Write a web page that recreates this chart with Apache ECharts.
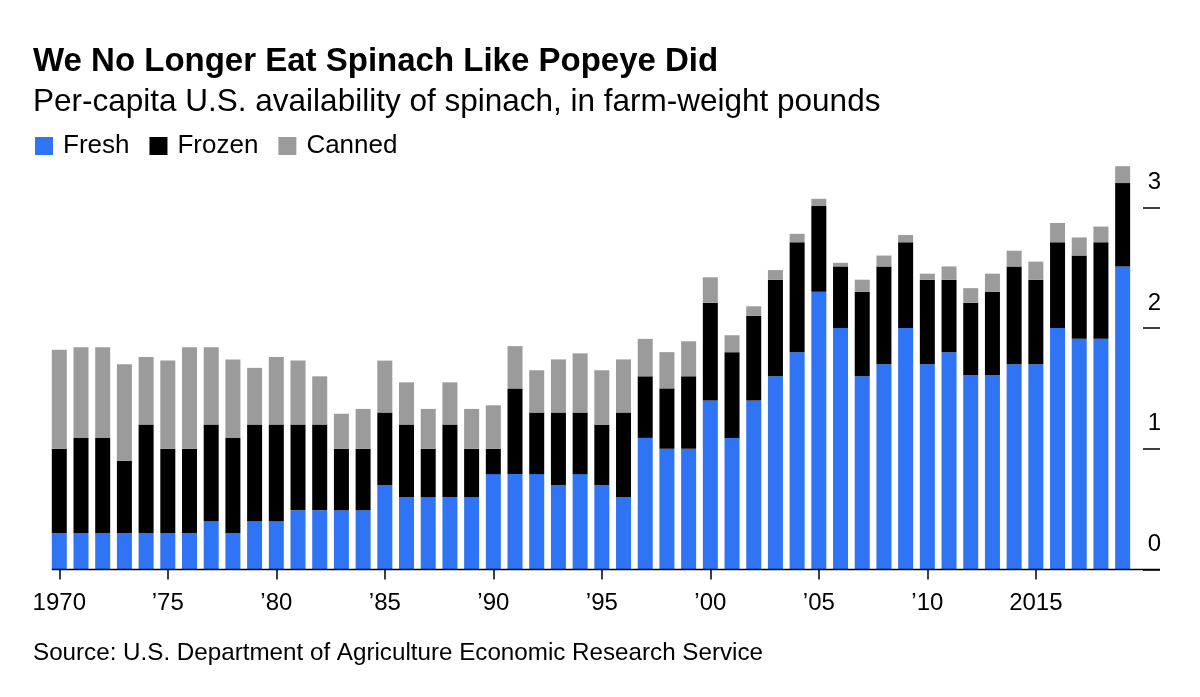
<!DOCTYPE html>
<html>
<head>
<meta charset="utf-8">
<script src="https://cdn.jsdelivr.net/npm/echarts@6/dist/echarts.min.js"></script>
<style>
html,body{margin:0;padding:0;background:#fff;}
#c{width:1200px;height:697px;}
</style>
</head>
<body>
<div id="c"></div>
<script>
const years = [];
for (let y = 1970; y <= 2019; y++) years.push(String(y));

const fresh = [0.30,0.30,0.30,0.30,0.30,0.30,0.30,0.40,0.30,0.40,
               0.40,0.49,0.49,0.49,0.49,0.70,0.60,0.60,0.60,0.60,
               0.79,0.79,0.79,0.70,0.79,0.70,0.60,1.09,1.00,1.00,
               1.40,1.09,1.40,1.60,1.80,2.30,2.00,1.60,1.70,2.00,
               1.70,1.80,1.61,1.61,1.70,1.70,2.00,1.91,1.91,2.51];
const frozen = [0.70,0.79,0.79,0.60,0.90,0.70,0.70,0.80,0.79,0.80,
                0.80,0.71,0.71,0.51,0.51,0.60,0.60,0.40,0.60,0.40,
                0.21,0.71,0.51,0.60,0.51,0.50,0.70,0.51,0.50,0.60,
                0.81,0.71,0.70,0.80,0.91,0.71,0.51,0.70,0.81,0.71,
                0.70,0.60,0.60,0.69,0.81,0.70,0.71,0.69,0.80,0.69];
const canned = [0.82,0.75,0.75,0.80,0.56,0.73,0.84,0.64,0.65,0.47,
                0.56,0.53,0.40,0.29,0.33,0.43,0.35,0.33,0.35,0.33,
                0.36,0.35,0.35,0.44,0.49,0.45,0.44,0.31,0.30,0.29,
                0.21,0.14,0.08,0.08,0.07,0.06,0.03,0.10,0.09,0.06,
                0.05,0.11,0.12,0.15,0.13,0.15,0.16,0.15,0.13,0.14];

const yTicks = [0, 1, 2, 3];
const titleText = 'We No Longer Eat Spinach Like Popeye Did';
const subtitleText = 'Per-capita U.S. availability of spinach, in farm-weight pounds';
const sourceText = 'Source: U.S. Department of Agriculture Economic Research Service';

const FONT = '"Liberation Sans", Arial, Helvetica, sans-serif';
const BLUE = '#2f74f5', BLACK = '#000000', GRAY = '#9b9b9b';

function isLabeled(i) {
  const y = +years[i];
  return y % 5 === 0 && y <= 2015;
}

const chart = echarts.init(document.getElementById('c'), null, {renderer: 'canvas'});
const option = {
  animation: false,
  backgroundColor: '#ffffff',
  textStyle: {fontFamily: FONT},
  title: [
    {text: titleText, left: 33, top: 45, padding: 0,
     textStyle: {fontFamily: FONT, fontSize: 33, fontWeight: 'bold', color: '#000'}},
    {text: subtitleText, left: 33, top: 86, padding: 0,
     textStyle: {fontFamily: FONT, fontSize: 31.5, fontWeight: 'normal', color: '#000'}},
    {text: sourceText, left: 33, top: 641, padding: 0,
     textStyle: {fontFamily: FONT, fontSize: 24.2, fontWeight: 'normal', color: '#000'}}
  ],
  legend: {
    left: 35, top: 133, padding: 0,
    icon: 'rect', itemWidth: 18, itemHeight: 18, itemGap: 20,
    selectedMode: false,
    textStyle: {fontFamily: FONT, fontSize: 26, color: '#000', padding: [0,0,0,5]},
    data: ['Fresh', 'Frozen', 'Canned']
  },
  grid: {left: 48.45, right: 66.5, top: 165, bottom: 127.5, containLabel: false},
  xAxis: {
    type: 'category',
    data: years,
    boundaryGap: true,
    axisLine: {show: false},
    axisTick: {show: true, alignWithLabel: true, length: 10,
               interval: (i) => isLabeled(i),
               lineStyle: {color: '#000', width: 1.5}},
    axisLabel: {
      interval: (i) => isLabeled(i),
      fontFamily: FONT, fontSize: 24, color: '#000', margin: 22,
      formatter: (v) => {
        const y = +v;
        if (y === 1970 || y === 2015) return v;
        return '\u2019' + v.slice(2);
      }
    }
  },
  yAxis: {
    type: 'value',
    position: 'right',
    offset: 9.5,
    min: 0, max: 3.35, interval: 1,
    splitLine: {show: false},
    axisLine: {show: false},
    axisTick: {show: true, length: 17, inside: false, lineStyle: {color: '#000', width: 1.5}},
    axisLabel: {
      showMaxLabel: false,
      fontFamily: FONT, fontSize: 24, color: '#000',
      align: 'right', margin: 18, verticalAlign: 'bottom', padding: [0,0,13,0],
      formatter: (v) => (yTicks.indexOf(v) >= 0 ? String(v) : '')
    }
  },
  series: [
    {name: 'Fresh', type: 'bar', stack: 'total', data: fresh, barWidth: 15,
     itemStyle: {color: BLUE}},
    {name: 'Frozen', type: 'bar', stack: 'total', data: frozen, barWidth: 15,
     itemStyle: {color: BLACK}},
    {name: 'Canned', type: 'bar', stack: 'total', data: canned, barWidth: 15,
     itemStyle: {color: GRAY}}
  ]
};
chart.setOption(option);

// baseline axis line: from left edge of first bar to the end of the right-hand ticks
const p0 = chart.convertToPixel({gridIndex: 0}, [0, 0]);
chart.setOption({
  graphic: [{
    type: 'line', z: 10,
    shape: {x1: p0[0] - 7.5, y1: p0[1], x2: 1160, y2: p0[1]},
    style: {stroke: '#000', lineWidth: 1.5}
  }]
});
</script>
</body>
</html>
